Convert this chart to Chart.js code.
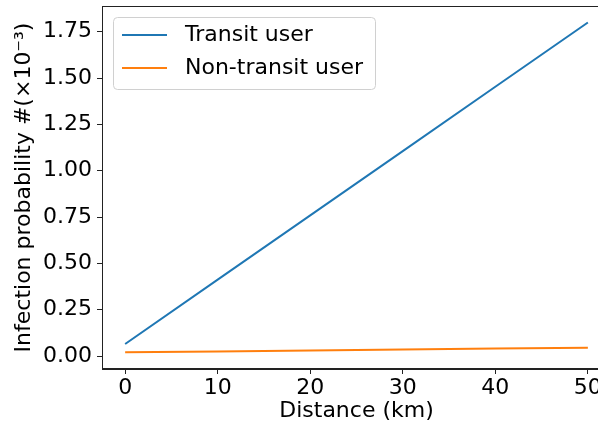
<!DOCTYPE html>
<html>
<head>
<meta charset="utf-8">
<script src="https://cdn.jsdelivr.net/npm/chart.js@4.4.0/dist/chart.umd.min.js"></script>
<style>
  html, body { margin: 0; padding: 0; background: #fff; overflow: hidden; }
  #wrap { width: 612px; height: 427px; }
</style>
</head>
<body>
<div id="wrap"><canvas id="chart" width="612" height="427"></canvas></div>
<script>
// Data
const distances = [0, 10, 20, 30, 40, 50];
const transitUser = [0.065, 0.412, 0.759, 1.106, 1.453, 1.80];
const nonTransitUser = [0.020, 0.025, 0.030, 0.035, 0.040, 0.045];
const xTicks = [0, 10, 20, 30, 40, 50];
const yTicks = [0, 0.25, 0.5, 0.75, 1.0, 1.25, 1.5, 1.75];
const seriesNames = ['Transit user', 'Non-transit user'];

const FONT = 'DejaVu Sans';
const SIZE = 22;

function toPoints(xs, ys) {
  return xs.map((x, i) => ({ x: x, y: ys[i] }));
}

// matplotlib-style frame and legend
const framePlugin = {
  id: 'frame',
  afterDraw(chart) {
    const { ctx, chartArea: a } = chart;
    ctx.save();
    ctx.strokeStyle = '#222';
    ctx.lineWidth = 1;
    ctx.strokeRect(a.left + 0.5, a.top + 0.5, a.right - a.left - 1, a.bottom - a.top - 1);

    // legend box
    const bx = a.left + 11, by = a.top + 11, bw = 262, bh = 72;
    ctx.beginPath();
    ctx.roundRect(bx + 0.5, by + 0.5, bw, bh, 4);
    ctx.fillStyle = 'rgba(255,255,255,0.8)';
    ctx.fill();
    ctx.strokeStyle = '#d0d0d0';
    ctx.stroke();

    ctx.font = SIZE + 'px "' + FONT + '"';
    ctx.textBaseline = 'middle';
    chart.data.datasets.forEach((ds, i) => {
      const y = by + 18 + i * 33;
      ctx.beginPath();
      ctx.moveTo(bx + 9, y);
      ctx.lineTo(bx + 54, y);
      ctx.strokeStyle = ds.borderColor;
      ctx.lineWidth = 2;
      ctx.stroke();
      ctx.fillStyle = '#000';
      ctx.fillText(ds.label, bx + 72, y);
    });
    ctx.restore();
  }
};

new Chart(document.getElementById('chart'), {
  type: 'line',
  data: {
    datasets: [
      {
        label: seriesNames[0],
        data: toPoints(distances, transitUser),
        borderColor: '#1f77b4',
        borderWidth: 2,
        pointRadius: 0,
        tension: 0
      },
      {
        label: seriesNames[1],
        data: toPoints(distances, nonTransitUser),
        borderColor: '#ff7f0e',
        borderWidth: 2,
        pointRadius: 0,
        tension: 0
      }
    ]
  },
  options: {
    responsive: false,
    animation: false,
    layout: { padding: { top: 6, right: 1, left: 0, bottom: 0 } },
    plugins: {
      legend: { display: false },
      tooltip: { enabled: false }
    },
    scales: {
      x: {
        type: 'linear',
        min: -2.5,
        max: 52.5,
        afterBuildTicks: (scale) => { scale.ticks = xTicks.map(v => ({ value: v })); },
        afterFit: (scale) => { scale.height = 58; scale.paddingLeft = 0; scale.paddingRight = 0; },
        grid: { drawOnChartArea: false, drawTicks: true, tickLength: 5, tickColor: '#222' },
        border: { display: true, color: '#222', width: 1 },
        ticks: {
          color: '#000',
          padding: 1,
          maxRotation: 0,
          font: { family: FONT, size: SIZE },
          callback: (v) => String(v)
        },
        title: {
          display: true,
          text: 'Distance (km)',
          color: '#000',
          font: { family: FONT, size: SIZE },
          padding: { top: 0, bottom: 3 }
        }
      },
      y: {
        type: 'linear',
        min: -0.070,
        max: 1.889,
        afterBuildTicks: (scale) => { scale.ticks = yTicks.map(v => ({ value: v })); },
        afterFit: (scale) => { scale.width = 102; scale.paddingTop = 0; scale.paddingBottom = 0; },
        grid: { drawOnChartArea: false, drawTicks: true, tickLength: 5, tickColor: '#222' },
        border: { display: true, color: '#222', width: 1 },
        ticks: {
          color: '#000',
          padding: 5,
          font: { family: FONT, size: SIZE },
          callback: (v) => Number(v).toFixed(2)
        },
        title: {
          display: true,
          text: 'Infection probability #(×10⁻³)',
          color: '#000',
          font: { family: FONT, size: SIZE },
          padding: { top: 11, bottom: 0 }
        }
      }
    }
  },
  plugins: [framePlugin]
});
</script>
</body>
</html>
